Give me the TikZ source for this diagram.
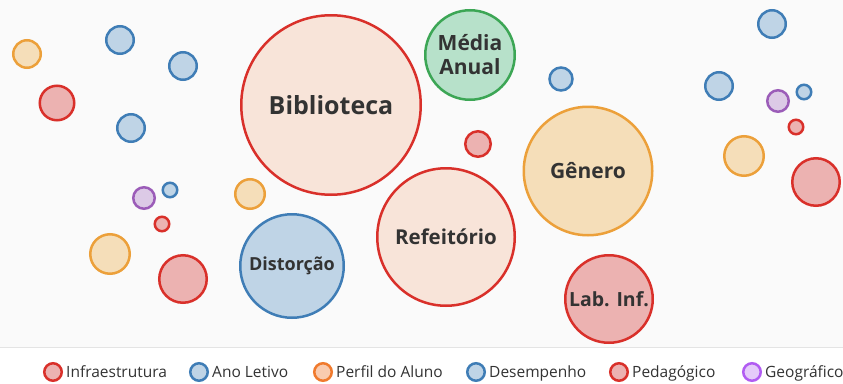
\documentclass[tikz,border=0pt]{standalone}
\usepackage{fontspec}
\setmainfont{Open Sans}
\usetikzlibrary{positioning}
\definecolor{chartbg}{HTML}{FAFAFA}
\definecolor{ruleline}{HTML}{E4E4E4}
\definecolor{labelgray}{HTML}{333333}
\definecolor{redline}{HTML}{D9302A}
\definecolor{redfill}{HTML}{ECB2B1}
\definecolor{peachfill}{HTML}{F8E4D9}
\definecolor{blueline}{HTML}{3F7DB6}
\definecolor{bluefill}{HTML}{BFD4E6}
\definecolor{orangeline}{HTML}{ECA03A}
\definecolor{orangefill}{HTML}{F5DEB9}
\definecolor{greenline}{HTML}{3CA655}
\definecolor{greenfill}{HTML}{B7E1CA}
\definecolor{purpleline}{HTML}{9B5CB8}
\definecolor{purplefill}{HTML}{DCCAE6}
\definecolor{legorange}{HTML}{F07A2D}
\definecolor{legorangefill}{HTML}{F9CBAF}
\definecolor{legpurple}{HTML}{B15CF2}
\definecolor{legpurplefill}{HTML}{E5CBFA}

\begin{document}
\begin{tikzpicture}[%
  x=1pt, y=-1pt,
  bubble/.style={circle, inner sep=0pt, line width=2.5pt, text=labelgray,
    align=center, font=\bfseries, minimum size=#1},
  redb/.style={bubble=#1, draw=redline, fill=redfill},
  peachb/.style={bubble=#1, draw=redline, fill=peachfill},
  blueb/.style={bubble=#1, draw=blueline, fill=bluefill},
  orangeb/.style={bubble=#1, draw=orangeline, fill=orangefill},
  greenb/.style={bubble=#1, draw=greenline, fill=greenfill},
  purpleb/.style={bubble=#1, draw=purpleline, fill=purplefill},
  legdot/.style={circle, inner sep=0pt, line width=2.5pt, minimum size=17.5pt},
  legtext/.style={inner sep=0pt, text=labelgray, font=\fontsize{15.5}{17}\selectfont,
    text height=12pt, text depth=1pt},
]

  \useasboundingbox (0,0) rectangle (843,383);
  \clip (0,0) rectangle (843,383);
  \fill[white] (0,0) rectangle (843,383);
  \fill[chartbg] (0,0) rectangle (843,347);
  \draw[ruleline, line width=1pt] (0,347) -- (843,347);

  % big labelled bubbles
  \node[peachb=179.5pt, font=\bfseries\fontsize{25}{28}\selectfont] (biblioteca) at (331,105) {Biblioteca};
  \node[greenb=89.5pt, font=\bfseries\fontsize{21}{24}\selectfont] (media) at (470,55) {Média\\Anual};
  \node[orangeb=128.5pt, font=\bfseries\fontsize{21}{22}\selectfont] (genero) at (588,171) {Gênero};
  \node[peachb=137.5pt, font=\bfseries\fontsize{20.5}{24}\selectfont] (refeitorio) at (446,237) {Refeitório};
  \node[blueb=103.5pt, font=\bfseries\fontsize{18}{22}\selectfont] (distorcao) at (292,266) {Distorção};
  \node[redb=87.5pt, font=\bfseries\fontsize{19.5}{22}\selectfont] (labinf) at (609,299) {Lab. Inf.};

  % small bubbles, left
  \node[orangeb=27.5pt] (o1) at (27,54) {};
  \node[blueb=27.5pt] (b1) at (120,40) {};
  \node[blueb=27.5pt] (b2) at (183,66) {};
  \node[redb=34.5pt] (r1) at (57,103) {};
  \node[blueb=27.5pt] (b3) at (131,128) {};
  \node[purpleb=21.5pt] (p1) at (144,198) {};
  \node[blueb=14.5pt] (b4) at (170,190) {};
  \node[redb=14.5pt] (r2) at (162,224) {};
  \node[orangeb=39.5pt] (o2) at (110,254) {};
  \node[redb=47.5pt] (r3) at (183,279) {};
  \node[orangeb=29.5pt] (o3) at (250,194) {};

  % small bubbles, middle and right
  \node[redb=25.5pt] (r4) at (478,144) {};
  \node[blueb=23pt] (b5) at (561,79) {};
  \node[blueb=27.5pt] (b6) at (772,24) {};
  \node[blueb=27.5pt] (b7) at (719,86) {};
  \node[purpleb=21.5pt] (p2) at (778,101) {};
  \node[blueb=14.5pt] (b8) at (804,92) {};
  \node[redb=14.5pt] (r5) at (796,127) {};
  \node[orangeb=39.5pt] (o4) at (744,156) {};
  \node[redb=47.5pt] (r6) at (816,182) {};

  % legend
  \node[legdot, draw=redline, fill=redfill] (lgInfra) at (53,372) {};
  \node[legtext, right=3pt of lgInfra] (ltInfra) {Infraestrutura};
  \node[legdot, draw=blueline, fill=bluefill] (lgAno) at (199,372) {};
  \node[legtext, right=3pt of lgAno] (ltAno) {Ano Letivo};
  \node[legdot, draw=legorange, fill=legorangefill] (lgPerfil) at (323,372) {};
  \node[legtext, right=3pt of lgPerfil] (ltPerfil) {Perfil do Aluno};
  \node[legdot, draw=blueline, fill=bluefill] (lgDesemp) at (476,372) {};
  \node[legtext, right=3pt of lgDesemp] (ltDesemp) {Desempenho};
  \node[legdot, draw=redline, fill=redfill] (lgPedag) at (619,372) {};
  \node[legtext, right=3pt of lgPedag] (ltPedag) {Pedagógico};
  \node[legdot, draw=legpurple, fill=legpurplefill] (lgGeo) at (752,372) {};
  \node[legtext, right=3pt of lgGeo] (ltGeo) {Geográfico};

\end{tikzpicture}
\end{document}
